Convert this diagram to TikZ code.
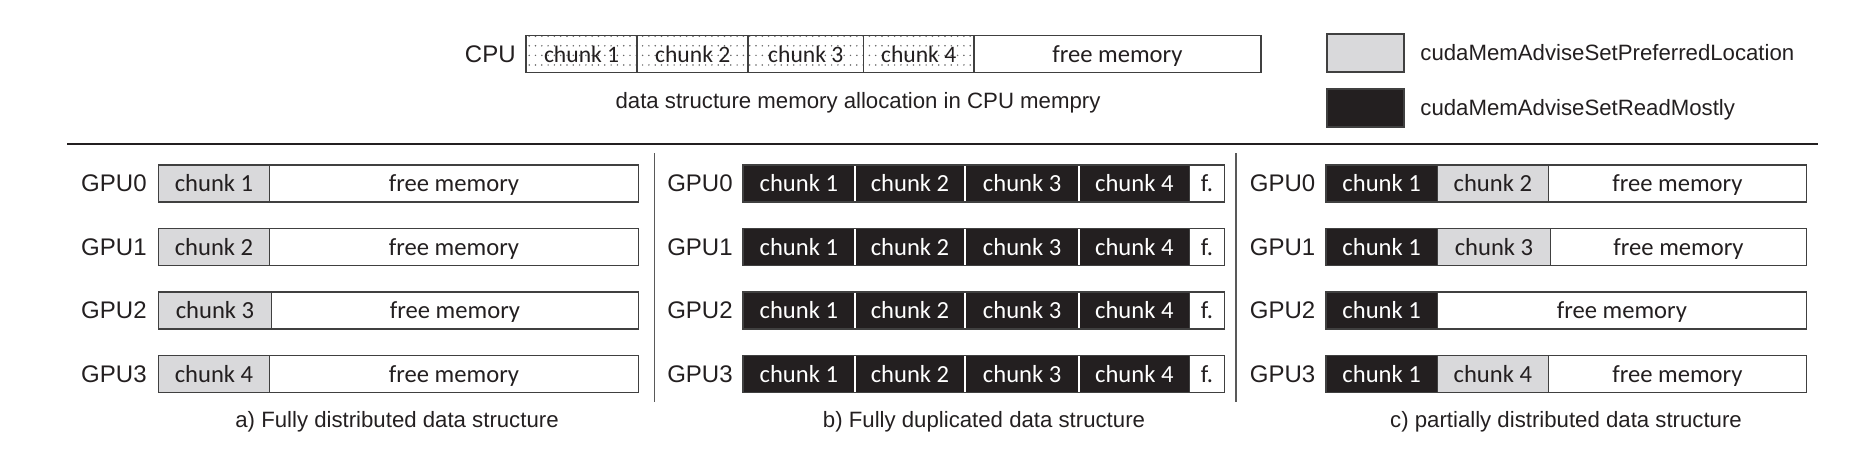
\documentclass[tikz,border=0pt]{standalone}
\usepackage{fontspec}
\setmainfont{Liberation Sans}
\newfontfamily\calibfont{Carlito}
\usetikzlibrary{patterns}
\pgfdeclarepatternformonly{sparsedots}{\pgfqpoint{-1pt}{-1pt}}{\pgfqpoint{1pt}{1pt}}{\pgfqpoint{3.15pt}{4.8pt}}{\pgfpathcircle{\pgfqpoint{0pt}{0pt}}{.42pt}\pgfusepath{fill}}
\definecolor{ink}{HTML}{231F20}
\definecolor{lgrey}{HTML}{D9D9DB}
\definecolor{edge}{HTML}{404040}
\begin{document}
\begin{tikzpicture}[x=0.5pt,y=-0.5pt,
  box/.style={draw=edge, line width=0.8pt, minimum height=18.5pt, inner sep=0pt, outer sep=0pt,
    anchor=west, font=\calibfont\fontsize{12.3}{14}\selectfont, text height=10.9pt, text depth=2.5pt, text=ink},
  gchunk/.style={box, fill=lgrey},
  kchunk/.style={box, fill=ink, text=white},
  wchunk/.style={box, fill=white},
  dchunk/.style={box, pattern=sparsedots, pattern color=black!60, font=\calibfont\fontsize{11.8}{14}\selectfont},
  lab/.style={font=\fontsize{12}{14}\selectfont, text=ink, inner sep=0pt, anchor=east, text height=8.4pt, text depth=0pt},
  captxt/.style={font=\fontsize{11.1}{13}\selectfont, text=ink, inner sep=0pt, anchor=base},
  rule/.style={draw=ink, line width=0.9pt},
  vrule/.style={draw=black!65, line width=0.9pt}]
\useasboundingbox (0,0) rectangle (1855,449);

% CPU memory
\node[lab] (cpu) at (516,54) {CPU};
\node[dchunk, minimum width=55.6pt] (m1) at (526,54) {chunk 1};
\node[dchunk, minimum width=55.5pt] (m2) at (m1.east) {chunk 2};
\node[dchunk, minimum width=57.6pt] (m3) at (m2.east) {chunk 3};
\node[dchunk, minimum width=55.25pt] (m4) at (m3.east) {chunk 4};
\node[wchunk, minimum width=143.5pt] (mf) at (m4.east) {free memory};
\node[captxt] (cpucap) at (858,108) {data structure memory allocation in CPU mempry};

% legend
\node[gchunk, anchor=center, minimum width=38.5pt, minimum height=19pt] (lg1) at (1365.5,53) {};
\node[kchunk, anchor=center, minimum width=38.5pt, minimum height=19pt] (lg2) at (1365.5,108) {};
\node[captxt, anchor=base west] (lt1) at (1420,61) {cudaMemAdviseSetPreferredLocation};
\node[captxt, anchor=base west] (lt2) at (1420,115) {cudaMemAdviseSetReadMostly};

% separators
\coordinate (hl) at (67,144.3);
\coordinate (hr) at (1818,144.3);
\draw[rule] (hl) -- (hr);
\coordinate (d1t) at (654.5,153);
\coordinate (d1b) at (654.5,402);
\coordinate (d2t) at (1236,153);
\coordinate (d2b) at (1236,402);
\draw[vrule] (d1t) -- (d1b);
\draw[vrule] (d2t) -- (d2b);

% panel a
\foreach \r/\y/\w in {0/183.5/55.5, 1/247/55.5, 2/310.5/56.5, 3/374/55.5}{
  \pgfmathtruncatemacro{\c}{\r+1}
  \pgfmathsetmacro{\fw}{240-\w}
  \node[lab] (al\r) at (147,\y) {GPU\r};
  \node[gchunk, minimum width=\w pt] (ac\r) at (158.5,\y) {chunk \c};
  \node[wchunk, minimum width=\fw pt] (af\r) at (ac\r.east) {free memory};
}
\node[captxt] (capa) at (397,427) {a) Fully distributed data structure};

% panel b
\foreach \r/\y in {0/183.5, 1/247, 2/310.5, 3/374}{
  \node[lab] (bl\r) at (733,\y) {GPU\r};
  \node[kchunk, draw=white, minimum width=55.85pt] (b\r c1) at (743,\y) {chunk 1};
  \node[kchunk, draw=white, minimum width=55.25pt] (b\r c2) at (b\r c1.east) {chunk 2};
  \node[kchunk, draw=white, minimum width=56.95pt] (b\r c3) at (b\r c2.east) {chunk 3};
  \node[kchunk, draw=white, minimum width=55.25pt] (b\r c4) at (b\r c3.east) {chunk 4};
  \node[wchunk, minimum width=17.4pt] (b\r f) at (b\r c4.east) {f.};
  \draw[draw=edge, line width=0.8pt] (b\r c1.north west) rectangle (b\r f.south east);
}
\node[captxt] (capb) at (984,427) {b) Fully duplicated data structure};

% panel c
\node[lab] (cl0) at (1315.6,183.5) {GPU0};
\node[kchunk, minimum width=55.65pt] (c0k) at (1326,183.5) {chunk 1};
\node[gchunk, minimum width=55.5pt] (c0g) at (c0k.east) {chunk 2};
\node[wchunk, minimum width=129.05pt] (c0f) at (c0g.east) {free memory};

\node[lab] (cl1) at (1315.6,247) {GPU1};
\node[kchunk, minimum width=55.65pt] (c1k) at (1326,247) {chunk 1};
\node[gchunk, minimum width=56.65pt] (c1g) at (c1k.east) {chunk 3};
\node[wchunk, minimum width=127.9pt] (c1f) at (c1g.east) {free memory};

\node[lab] (cl2) at (1315.6,310.5) {GPU2};
\node[kchunk, minimum width=55.65pt] (c2k) at (1326,310.5) {chunk 1};
\node[wchunk, minimum width=184.55pt] (c2f) at (c2k.east) {free memory};

\node[lab] (cl3) at (1315.6,374) {GPU3};
\node[kchunk, minimum width=55.65pt] (c3k) at (1326,374) {chunk 1};
\node[gchunk, minimum width=55.5pt] (c3g) at (c3k.east) {chunk 4};
\node[wchunk, minimum width=129.05pt] (c3f) at (c3g.east) {free memory};
\node[captxt] (capc) at (1566,427) {c) partially distributed data structure};
\end{tikzpicture}
\end{document}
